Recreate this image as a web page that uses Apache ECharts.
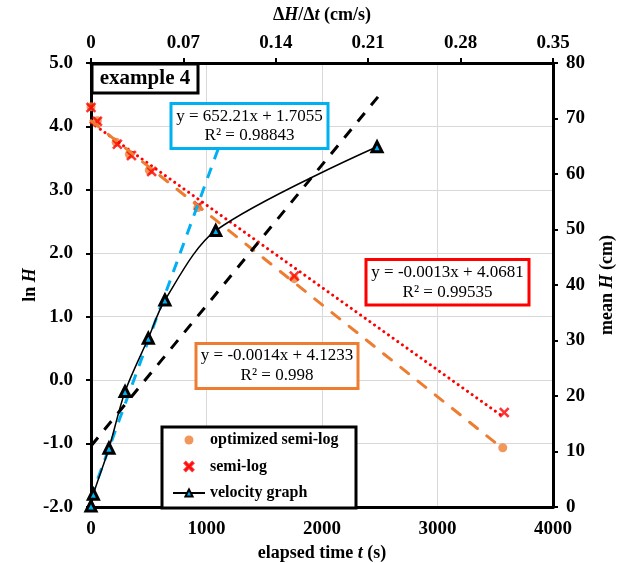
<!DOCTYPE html>
<html>
<head>
<meta charset="utf-8">
<script src="https://cdn.jsdelivr.net/npm/echarts@6/dist/echarts.min.js"></script>
<style>
html,body{margin:0;padding:0;background:#fff;}
#chart{width:626px;height:563px;}
</style>
</head>
<body>
<div id="chart"></div>
<script>
// ---- data ----
// semi-log: elapsed time t (s) vs ln H
const semiLogT   = [0, 55, 228, 350, 525, 930, 1760, 3578];
const semiLogLnH = [4.30, 4.08, 3.72, 3.54, 3.29, 2.75, 1.64, -0.51];
// optimized semi-log
const optT   = [0, 55, 218, 332, 505, 925, 1760, 3565];
const optLnH = [4.31, 4.09, 3.75, 3.56, 3.31, 2.72, 1.60, -1.065];
// velocity graph: dH/dt (cm/s) vs mean H (cm)
const velV = [0, 0.0018, 0.0136, 0.0258, 0.0434, 0.056, 0.0945, 0.2167];
const velH = [0.2, 2.3, 10.6, 20.8, 30.4, 37.3, 49.8, 64.9];
// trendlines (end points)
const trendSemiT = [0, 3578];   const trendSemiY = [4.06, -0.59];
const trendOptT  = [0, 3565];   const trendOptY  = [4.09, -1.08];
const trendVelV  = [0, 0.10];   const trendVelY  = [1.71, 66.9];
const refVelV    = [0, 0.2174]; const refVelY    = [11.0, 73.9];
// axis ticks
const timeTicks = {min: 0, max: 4000, interval: 1000};
const lnHTicks  = {min: -2, max: 5, interval: 1};
const velTicks  = {min: 0, max: 0.35, interval: 0.07};
const meanHTicks = {min: 0, max: 80, interval: 10};
// labels
const legendNames = ['optimized semi-log', 'semi-log', 'velocity graph'];
const eqVel  = ['y = 652.21x + 1.7055', 'R² = 0.98843'];
const eqSemi = ['y = -0.0013x + 4.0681', 'R² = 0.99535'];
const eqOpt  = ['y = -0.0014x + 4.1233', 'R² = 0.998'];
const titleText = 'example 4';

const zip = (a, b) => a.map((v, i) => [v, b[i]]);
const FF = '"Liberation Serif","Times New Roman",serif';
const ORANGE = '#ED7D31', RED = '#FF0000', CYAN = '#00B0F0';
const XPATH = 'path://M1.5,0 L5,3.5 L8.5,0 L10,1.5 L6.5,5 L10,8.5 L8.5,10 L5,6.5 L1.5,10 L0,8.5 L3.5,5 L0,1.5 Z';

const lab = {fontFamily: FF, fontWeight: 'bold', fontSize: 19, color: '#000'};
const nameRich = {
  a: {fontFamily: FF, fontWeight: 'bold', fontSize: 18, color: '#000'},
  b: {fontFamily: FF, fontWeight: 'bold', fontStyle: 'italic', fontSize: 18, color: '#000'}
};
const axLine = {show: true, onZero: false, lineStyle: {color: '#000', width: 3}};

function eqBox(x, y, w, h, color, lines, fontSize, lh) {
  return {
    type: 'group', z: 50,
    children: [
      {type: 'rect', shape: {x: x, y: y, width: w, height: h},
       style: {fill: '#fff', stroke: color, lineWidth: 3}, z: 50},
      {type: 'text', x: x + w / 2, y: y + h / 2, z: 51,
       style: {text: lines.join('\n'), font: fontSize + 'px ' + FF, fill: '#000',
               align: 'center', verticalAlign: 'middle', lineHeight: lh}}
    ]
  };
}

const chart = echarts.init(document.getElementById('chart'), null, {renderer: 'canvas'});
chart.setOption({
  animation: false,
  backgroundColor: '#fff',
  grid: {left: 91, right: 73, top: 63, bottom: 56, containLabel: false, outerBoundsMode: 'none'},
  xAxis: [
    {type: 'value', position: 'bottom', min: timeTicks.min, max: timeTicks.max, interval: timeTicks.interval,
     axisLine: axLine, axisTick: {show: false},
     axisLabel: Object.assign({margin: 13, formatter: v => String(v)}, lab),
     splitLine: {show: true, lineStyle: {color: '#D9D9D9', width: 1}},
     name: 'elapsed time {b|t} (s)', nameLocation: 'middle', nameGap: 34,
     nameTextStyle: {rich: nameRich, fontFamily: FF, fontWeight: 'bold', fontSize: 18}},
    {type: 'value', position: 'top', min: velTicks.min, max: velTicks.max, interval: velTicks.interval,
     axisLine: axLine, axisTick: {show: true, inside: false, length: 5, lineStyle: {color: '#000', width: 2}},
     axisLabel: Object.assign({margin: 10, formatter: v => v === 0 ? '0' : v.toFixed(2)}, lab),
     splitLine: {show: false},
     name: '{a|Δ}{b|H}{a|/Δ}{b|t}{a| (cm/s)}', nameLocation: 'middle', nameGap: 39,
     nameTextStyle: {rich: nameRich, fontFamily: FF, fontWeight: 'bold', fontSize: 18}}
  ],
  yAxis: [
    {type: 'value', position: 'left', min: lnHTicks.min, max: lnHTicks.max, interval: lnHTicks.interval,
     axisLine: axLine, axisTick: {show: true, inside: false, length: 5, lineStyle: {color: '#000', width: 2}},
     axisLabel: Object.assign({margin: 18, formatter: v => v.toFixed(1)}, lab),
     splitLine: {show: true, lineStyle: {color: '#D9D9D9', width: 1}},
     name: '{a|ln }{b|H}', nameLocation: 'middle', nameGap: 52, nameRotate: 90, nameMoveOverlap: false,
     nameTextStyle: {rich: nameRich, fontFamily: FF, fontWeight: 'bold', fontSize: 18}},
    {type: 'value', position: 'right', min: meanHTicks.min, max: meanHTicks.max, interval: meanHTicks.interval,
     axisLine: axLine, axisTick: {show: true, inside: false, length: 5, lineStyle: {color: '#000', width: 2}},
     axisLabel: Object.assign({margin: 13}, lab),
     splitLine: {show: false},
     name: 'mean {b|H} (cm)', nameLocation: 'middle', nameGap: 45, nameRotate: 90,
     nameTextStyle: {rich: nameRich, fontFamily: FF, fontWeight: 'bold', fontSize: 18}}
  ],
  legend: {
    data: legendNames, orient: 'vertical', left: 172, top: 432, z: 60,
    itemWidth: 32, itemHeight: 9, itemGap: 10.5,
    padding: 0,
    textStyle: {fontFamily: FF, fontWeight: 'bold', fontSize: 16, lineHeight: 16, color: '#000'}
  },
  graphic: [
    {type: 'rect', z: 55, shape: {x: 162, y: 427, width: 194, height: 81},
     style: {fill: '#fff', stroke: '#000', lineWidth: 3}},
    {type: 'group', z: 50, children: [
      {type: 'rect', shape: {x: 92, y: 64, width: 106, height: 29},
       style: {fill: '#fff', stroke: '#000', lineWidth: 3}, z: 50},
      {type: 'text', x: 145, y: 79, z: 51,
       style: {text: titleText, font: 'bold 21px ' + FF, fill: '#000', align: 'center', verticalAlign: 'middle'}}
    ]},
    eqBox(171, 103.5, 157, 45, CYAN, eqVel, 17, 19),
    eqBox(366, 259.5, 163, 45.5, RED, eqSemi, 17, 20),
    eqBox(196, 343.5, 162, 45, ORANGE, eqOpt, 17, 20)
  ],
  series: [
    {name: 'optimized semi-log', type: 'scatter', xAxisIndex: 0, yAxisIndex: 0,
     data: zip(optT, optLnH), symbol: 'circle', symbolSize: 9,
     itemStyle: {color: ORANGE}, z: 3},
    {name: 'semi-log', type: 'scatter', xAxisIndex: 0, yAxisIndex: 0,
     data: zip(semiLogT, semiLogLnH), symbol: XPATH, symbolSize: 10,
     itemStyle: {color: RED, borderColor: RED, borderWidth: 0.5}, z: 4},
    {name: 'velocity graph', type: 'line', xAxisIndex: 1, yAxisIndex: 1,
     data: zip(velV, velH), smooth: 0.3, symbol: 'triangle', symbolSize: 10, showSymbol: true,
     lineStyle: {color: '#000', width: 1.5},
     itemStyle: {color: CYAN, borderColor: '#000', borderWidth: 3}, z: 6},
    {name: 'trend semi', type: 'line', xAxisIndex: 0, yAxisIndex: 0, data: zip(trendSemiT, trendSemiY),
     showSymbol: false, silent: true, z: 5,
     lineStyle: {color: RED, width: 3, type: [0.01, 5.7], cap: 'round'}},
    {name: 'trend opt', type: 'line', xAxisIndex: 0, yAxisIndex: 0, data: zip(trendOptT, trendOptY),
     showSymbol: false, silent: true, z: 5,
     lineStyle: {color: ORANGE, width: 3, type: [10, 12], cap: 'round'}},
    {name: 'trend vel', type: 'line', xAxisIndex: 1, yAxisIndex: 1, data: zip(trendVelV, trendVelY),
     showSymbol: false, silent: true, z: 5,
     lineStyle: {color: CYAN, width: 3, type: [11, 9], cap: 'butt'}},
    {name: 'ref vel', type: 'line', xAxisIndex: 1, yAxisIndex: 1, data: zip(refVelV, refVelY),
     showSymbol: false, silent: true, z: 5,
     lineStyle: {color: '#000', width: 3, type: [11, 10], cap: 'butt'}}
  ]
});
</script>
</body>
</html>
